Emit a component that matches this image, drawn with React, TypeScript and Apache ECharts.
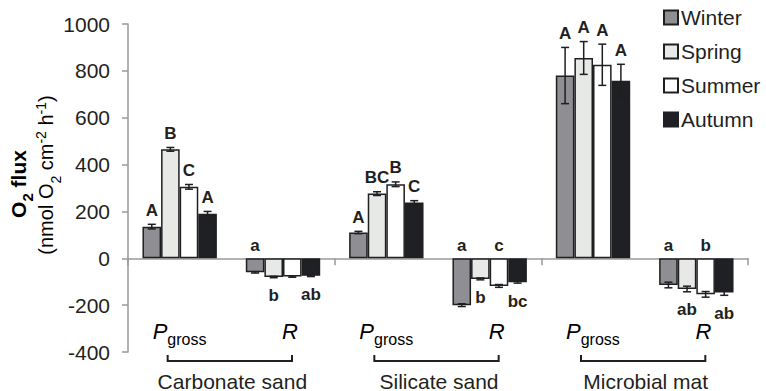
import React, { useEffect, useRef } from 'react';
import * as echarts from 'echarts';

// ---- data ----
const sites = ['Carbonate sand', 'Silicate sand', 'Microbial mat'];
const xCategories = ['Carbonate Pgross', 'Carbonate R', 'Silicate Pgross', 'Silicate R', 'Microbial Pgross', 'Microbial R'];
const seasons = ['Winter', 'Spring', 'Summer', 'Autumn'];

const winterValues = [135, -60, 110, -200, 780, -114];
const winterErrors = [10, 3, 5, 6, 120, 12];
const springValues = [465, -80, 276, -88, 855, -131];
const springErrors = [8, 3, 8, 4, 70, 12];
const summerValues = [305, -78, 316, -118, 826, -154];
const summerErrors = [10, 3, 10, 6, 88, 12];
const autumnValues = [190, -75, 238, -102, 758, -146];
const autumnErrors = [10, 3, 8, 4, 70, 12];

const winterLetters = ['A', 'a', 'A', 'a', 'A', 'a'];
const springLetters = ['B', 'b', 'BC', 'b', 'A', 'ab'];
const summerLetters = ['C', '', 'B', 'c', 'A', 'b'];
const autumnLetters = ['A', 'ab', 'C', 'bc', 'A', 'ab'];

const yMin = -400;
const yMax = 1000;
const yStep = 200;

// ---- styles ----
const FONT = "'Liberation Sans', Arial, Helvetica, sans-serif";
const TEXT = '#231f20';
const AXIS = '#9a9a9a';
const EDGE = '#1f1f22';
const seasonColors = ['#8f8e93', '#e7e9e7', '#ffffff', '#1f2024'];
const GAP = 0.28;

const valueSets = [winterValues, springValues, summerValues, autumnValues];
const errorSets = [winterErrors, springErrors, summerErrors, autumnErrors];
const letterSets = [winterLetters, springLetters, summerLetters, autumnLetters];

function makeRenderer(s: number, letters: string[]) {
  return (params: any, api: any) => {
    const idx = api.value(0);
    const v = api.value(1);
    const e = api.value(2);
    const band = api.size([1, 0])[0];
    const barW = (band * (1 - GAP)) / 4;
    const base = api.coord([idx, v]);
    const cx = base[0] + (s - 1.5) * barW;
    const yHi = api.coord([idx, v + e])[1];
    const yLo = api.coord([idx, v - e])[1];
    const y0 = api.coord([idx, 0])[1];
    const ls = { stroke: EDGE, lineWidth: 1.5 };
    const cap = 4;
    const children: any[] = [
      { type: 'line', shape: { x1: cx, y1: yHi, x2: cx, y2: yLo }, style: ls },
      { type: 'line', shape: { x1: cx - cap, y1: yHi, x2: cx + cap, y2: yHi }, style: ls },
      { type: 'line', shape: { x1: cx - cap, y1: yLo, x2: cx + cap, y2: yLo }, style: ls },
    ];
    const letter = letters[idx];
    if (letter) {
      let ty: number;
      if (v >= 0) ty = yHi - 14;
      else if (s % 2 === 0) ty = y0 - 13;
      else ty = yLo + 18;
      children.push({
        type: 'text',
        x: cx,
        y: ty,
        style: {
          text: letter,
          align: 'center',
          verticalAlign: 'middle',
          fontSize: 17,
          fontWeight: 'bold',
          fontFamily: FONT,
          fill: TEXT,
        },
      });
    }
    return { type: 'group', children };
  };
}

export default function App() {
  const ref = useRef<HTMLDivElement>(null);

  useEffect(() => {
    document.body.style.margin = '0';
    if (!ref.current) return;
    const chart = echarts.init(ref.current, undefined, { renderer: 'svg' });

    const barSeries = seasons.map((name, s) => ({
      name,
      type: 'bar',
      data: valueSets[s],
      barGap: '0%',
      barCategoryGap: `${GAP * 100}%`,
      itemStyle: { color: seasonColors[s], borderColor: EDGE, borderWidth: 1.5 },
      z: 2,
    }));

    const errSeries = seasons.map((_, s) => ({
      type: 'custom',
      renderItem: makeRenderer(s, letterSets[s]),
      data: valueSets[s].map((v, i) => [i, v, errorSets[s][i]]),
      encode: { x: 0, y: 1 },
      z: 5,
      silent: true,
    }));

    chart.setOption({
      animation: false,
      grid: { left: 128, right: 18, top: 24, bottom: 39 },
      legend: {
        data: seasons,
        orient: 'vertical',
        left: 663,
        top: 7,
        padding: 0,
        itemWidth: 14,
        itemHeight: 14,
        itemGap: 13,
        icon: 'rect',
        textStyle: { fontSize: 21, color: TEXT, fontFamily: FONT, padding: [0, 0, 0, -2] },
      },
      xAxis: {
        type: 'category',
        data: xCategories,
        axisLine: { onZero: true, lineStyle: { color: AXIS, width: 1.5 } },
        axisTick: { show: true, length: 7, lineStyle: { color: AXIS, width: 1.5 } },
        axisLabel: { show: false },
        splitLine: { show: false },
      },
      yAxis: {
        type: 'value',
        min: yMin,
        max: yMax,
        interval: yStep,
        axisLine: { show: true, lineStyle: { color: AXIS, width: 1.5 } },
        axisTick: { show: true, length: 6, lineStyle: { color: AXIS, width: 1.5 } },
        axisLabel: { fontSize: 21, color: TEXT, fontFamily: FONT, margin: 18, formatter: (v: number) => String(v) },
        splitLine: { show: false },
      },
      series: [...barSeries, ...errSeries],
    });

    const yBottom = chart.convertToPixel({ gridIndex: 0 }, [0, yMin])[1];
    const richLabel = {
      m: { fontSize: 22, fontStyle: 'italic', fontFamily: FONT, color: TEXT, padding: [6, 0, 6, 0] },
      s: { fontSize: 16, fontFamily: FONT, color: TEXT, padding: [17, 0, 0, 0] },
    };
    const graphics: any[] = [];
    sites.forEach((site, k) => {
      const pc = chart.convertToPixel({ gridIndex: 0 }, [2 * k, 0])[0];
      const rc = chart.convertToPixel({ gridIndex: 0 }, [2 * k + 1, 0])[0];
      graphics.push({
        type: 'text',
        x: pc - 27,
        y: yBottom - 21,
        style: { text: '{m|P}{s|gross}', rich: richLabel, align: 'left', verticalAlign: 'middle' },
      });
      graphics.push({
        type: 'text',
        x: rc + 7,
        y: yBottom - 21,
        style: { text: '{m|R}', rich: richLabel, align: 'center', verticalAlign: 'middle' },
      });
      graphics.push({
        type: 'polyline',
        shape: { points: [[pc - 12, yBottom + 3], [pc - 12, yBottom + 9], [rc + 9, yBottom + 9], [rc + 9, yBottom + 3]] },
        style: { stroke: TEXT, lineWidth: 2, fill: 'none' },
      });
      graphics.push({
        type: 'text',
        x: (pc + rc) / 2 + 1,
        y: yBottom + 29,
        style: { text: site, fontSize: 21, fontFamily: FONT, fill: TEXT, align: 'center', verticalAlign: 'middle' },
      });
    });

    graphics.push({
      type: 'text',
      x: 18.5,
      y: 184,
      rotation: Math.PI / 2,
      style: {
        text: '{m|O}{s|2}{m| flux}',
        align: 'center',
        verticalAlign: 'middle',
        rich: {
          m: { fontSize: 21, fontWeight: 'bold', fontFamily: FONT, color: TEXT, padding: [6, 0, 6, 0] },
          s: { fontSize: 15, fontWeight: 'bold', fontFamily: FONT, color: TEXT, padding: [18, 0, 0, 0] },
        },
      },
    });
    graphics.push({
      type: 'text',
      x: 46,
      y: 175,
      rotation: Math.PI / 2,
      style: {
        text: '{m|(nmol O}{s|2}{m| cm}{p|-2}{m| h}{p|-1}{m|)}',
        align: 'center',
        verticalAlign: 'middle',
        rich: {
          m: { fontSize: 20, fontFamily: FONT, color: TEXT, padding: [6, 0, 6, 0] },
          s: { fontSize: 14, fontFamily: FONT, color: TEXT, padding: [19, 0, 0, 0] },
          p: { fontSize: 14, fontFamily: FONT, color: TEXT, padding: [4, 0, 15, 0] },
        },
      },
    });

    chart.setOption({ graphic: graphics });

    return () => chart.dispose();
  }, []);

  return <div ref={ref} style={{ width: 766, height: 391 }} />;
}
